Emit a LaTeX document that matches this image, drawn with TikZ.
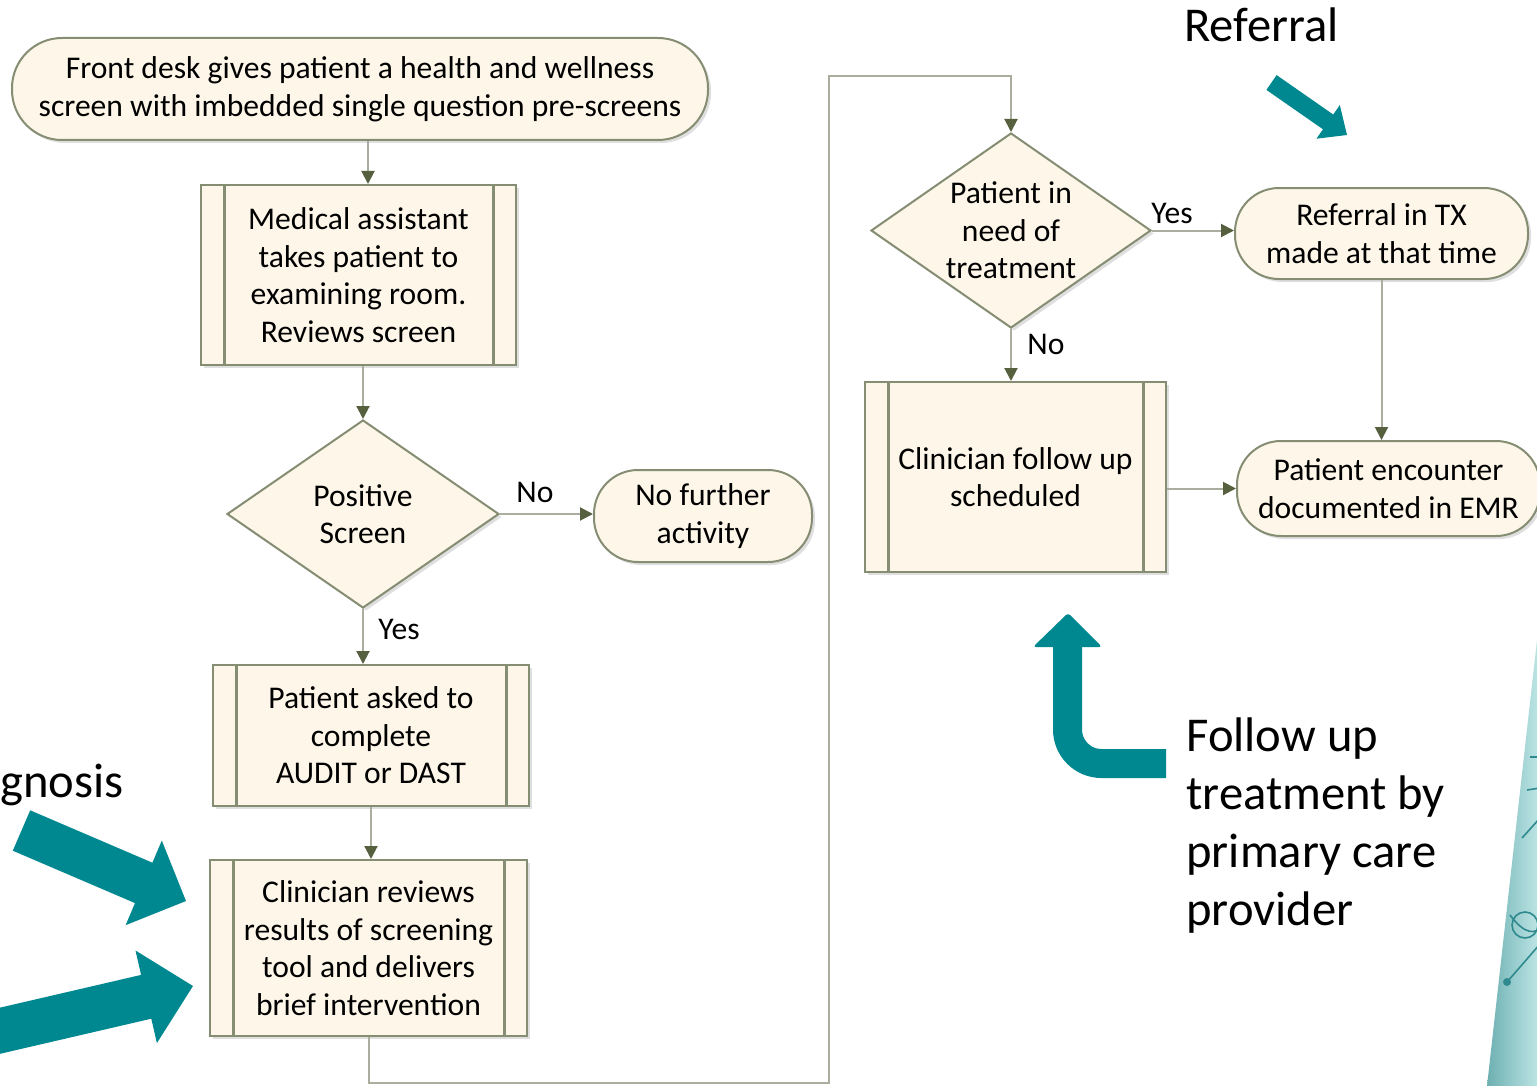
\documentclass[tikz,border=0pt]{standalone}
\usepackage{fontspec}
\setmainfont{Carlito}
\usetikzlibrary{arrows.meta,shapes.geometric,shadows,calc}
\definecolor{fillc}{HTML}{FDF6E9}
\definecolor{bordc}{HTML}{858D73}
\definecolor{linec}{HTML}{A9AE9F}
\definecolor{arrc}{HTML}{56603F}
\definecolor{tealA}{HTML}{008890}
\definecolor{panelL}{HTML}{6AAEB0}
\definecolor{panelR}{HTML}{C8ECEC}
\definecolor{panelLine}{HTML}{2F8A90}
\begin{document}
\begin{tikzpicture}[x=0.5pt,y=-0.5pt,
  every node/.style={font=\fontsize{15.8}{18.8}\selectfont, text=black},
  basebox/.style={draw=bordc, line width=1pt, fill=fillc,
    drop shadow={shadow xshift=1.5pt,shadow yshift=-1.5pt,opacity=0.25},
    align=center, inner sep=0pt},
  term/.style={basebox, rounded corners=22pt},
  proc/.style={basebox, path picture={
    \draw[bordc,line width=1.5pt]
      ([xshift=11.5pt]path picture bounding box.north west) -- ([xshift=11.5pt]path picture bounding box.south west)
      ([xshift=-11.5pt]path picture bounding box.north east) -- ([xshift=-11.5pt]path picture bounding box.south east);}},
  dia/.style={basebox, diamond},
  dtext/.style={inner sep=0pt, align=center},
  conn/.style={draw=linec, line width=1pt, -{Triangle[length=6.5pt,width=6.5pt,color=arrc]}},
  lbl/.style={inner sep=0pt},
  big/.style={font=\fontsize{24.3}{29}\selectfont, inner sep=0pt, align=left},
  bigarrow/.style={fill=tealA}
]
\useasboundingbox (0,0) rectangle (1537,1086);
\clip (0,0) rectangle (1537,1086);

% decorative panel
\begin{scope}
  \clip (1537,640) -- (1487,1086) -- (1545,1086) -- (1545,640) -- cycle;
  \shade[left color=panelL, right color=panelR] (1485,630) rectangle (1545,1090);
  \draw[panelLine, line width=0.8pt] (1530,757) -- (1540,757);
  \draw[panelLine, line width=0.8pt] (1527,790) -- (1540,788);
  \draw[panelLine, line width=0.8pt] (1522,838) -- (1540,818);
  \draw[panelLine, line width=0.8pt] (1525,925) circle (13);
  \draw[panelLine, line width=0.8pt] (1510,915) .. controls (1525,935) and (1535,935) .. (1545,925);
  \draw[panelLine, line width=0.8pt] (1507,982) -- (1540,944);
  \fill[panelLine] (1507,982) circle (4);
\end{scope}

% flowchart nodes
\node[term, rounded corners=25pt, minimum width=348pt, minimum height=51pt] (start) at (360,89)
  {Front desk gives patient a health and wellness\\screen with imbedded single question pre-screens};
\node[proc, minimum width=157.5pt, minimum height=90pt] (box1) at (358.5,275)
  {Medical assistant\\takes patient to\\examining room.\\Reviews screen};
\node[dia, minimum width=136pt, minimum height=94pt] (d1) at (363,514) {};
\node[dtext] at (d1) {Positive\\Screen};
\node[term, minimum width=109pt, minimum height=46pt] (nf) at (703,516) {No further\\activity};
\node[proc, minimum width=158pt, minimum height=70.5pt] (box3) at (371,735.5)
  {Patient asked to\\complete\\AUDIT or DAST};
\node[proc, minimum width=158.5pt, minimum height=88pt] (box4) at (368.5,948)
  {Clinician reviews\\results of screening\\tool and delivers\\brief intervention};
\node[dia, minimum width=140pt, minimum height=97.5pt] (d2) at (1011,230.5) {};
\node[dtext] at (d2) {Patient in\\need of\\treatment};
\node[term, minimum width=146.5pt, minimum height=45.5pt] (ref) at (1381.5,233.5)
  {Referral in TX\\made at that time};
\node[term, minimum width=151.5pt, minimum height=47.5pt] (enc) at (1388.5,488.5)
  {Patient encounter\\documented in EMR};
\node[proc, minimum width=150.5pt, minimum height=95pt] (box5) at (1015.5,477)
  {Clinician follow up\\scheduled};

% connectors
\coordinate (xa) at (368,0);
\draw[conn] (start.south -| xa) -- (box1.north -| xa);
\draw[conn] (box1.south -| d1.north) -- (d1.north);
\draw[conn] (d1.east) -- (d1.east -| nf.west);
\draw[conn] (d1.south) -- (d1.south |- box3.north);
\draw[conn] (box3.south) -- (box3.south |- box4.north);
\coordinate (lp1) at (829,1083);
\coordinate (lp2) at (829,76);
\draw[conn] (box4.south) |- (lp1) -- (lp2) -| (d2.north);
\draw[conn] (d2.east) -- (d2.east -| ref.west);
\draw[conn] (ref.south) -- (ref.south |- enc.north);
\draw[conn] (d2.south) -- (d2.south |- box5.north);
\draw[conn] (box5.east |- enc.west) -- (enc.west);

% labels
\node[lbl] (l1) at (535,492) {No};
\node[lbl] (l2) at (399,629) {Yes};
\node[lbl] (l3) at (1172,213) {Yes};
\node[lbl] (l4) at (1046,344) {No};

% big teal arrows
\fill[bigarrow] (1276.6,75.1) -- (1333.2,114.5) -- (1339.8,105.1) -- (1347,135) -- (1316.4,138.7) -- (1323.0,129.3) -- (1266.4,89.9) -- cycle;
\fill[bigarrow] (30.2,810.3) -- (152.4,862.7) -- (161.8,840.6) -- (186,901) -- (125.6,925.2) -- (135.0,903.1) -- (12.8,850.7) -- cycle;
\fill[bigarrow] (-53.7,1020.1) -- (141.1,974.9) -- (135.5,950.5) -- (193,986) -- (156.9,1043.1) -- (151.3,1018.7) -- (-43.5,1063.9) -- cycle;
\draw[tealA, line width=14.5pt, rounded corners=17pt] (1166,763.5) -- (1067.5,763.5) -- (1067.5,644);
\fill[tealA, rounded corners=1.5pt] (1033,647) -- (1068,613) -- (1102,647) -- cycle;

% big texts
\node[big, anchor=base west] (tref) at (1184,42) {Referral};
\node[big, anchor=base west] (tdiag) at (0,797) {gnosis};
\node[big, anchor=north west] (tfol) at (1186,717) {Follow up\\treatment by\\primary care\\provider};
\end{tikzpicture}
\end{document}
